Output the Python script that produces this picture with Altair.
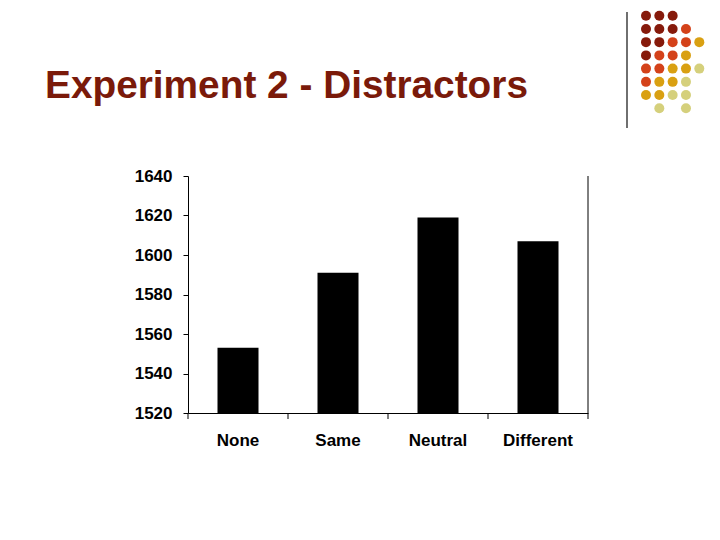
import altair as alt
import pandas as pd

# Bar data
conditions = ["None", "Same", "Neutral", "Different"]
rt_values = [1553, 1591, 1619, 1607]
y_ticks = [1520, 1540, 1560, 1580, 1600, 1620, 1640]
y_base = 1520
x_boundaries = [0, 1, 2, 3, 4]

# Decorative dot grid (row, col, colour group)
dot_rows = [0, 0, 0, 1, 1, 1, 1, 2, 2, 2, 2, 2, 3, 3, 3, 3, 4, 4, 4, 4, 4, 5, 5, 5, 5, 6, 6, 6, 6, 7, 7]
dot_cols = [0, 1, 2, 0, 1, 2, 3, 0, 1, 2, 3, 4, 0, 1, 2, 3, 0, 1, 2, 3, 4, 0, 1, 2, 3, 0, 1, 2, 3, 1, 3]
dot_tone = ["D", "D", "D", "D", "D", "D", "O", "D", "D", "O", "O", "G", "D", "O", "O", "G",
            "O", "O", "G", "G", "P", "O", "G", "G", "P", "G", "G", "P", "P", "P", "P"]
tone_names = ["D", "O", "G", "P"]
tone_colors = ["#861a0b", "#d4421a", "#d9a012", "#d5d07c"]

title_text = "Experiment 2 - Distractors"
title_color = "#7a1a0a"

W, H = 400, 237
LEFT, TOP = 180, 168

bars_df = pd.DataFrame({"cond": conditions, "rt": rt_values, "base": [y_base] * len(conditions)})
dots_df = pd.DataFrame({"r": dot_rows, "c": dot_cols, "tone": dot_tone})
ticks_df = pd.DataFrame({"b": x_boundaries})
one = alt.Data(values=[{}])

bars = alt.Chart(bars_df).mark_bar(color="black", clip=True).encode(
    x=alt.X("cond:N", sort=conditions, title=None,
            scale=alt.Scale(paddingInner=0.59, paddingOuter=0.295),
            axis=alt.Axis(labelAngle=0, ticks=False,
                          domainColor="black", labelFont="Liberation Sans", labelFontSize=17,
                          labelFontWeight="bold", labelColor="black", labelPadding=19)),
    y=alt.Y("rt:Q", title=None,
            scale=alt.Scale(domain=[1520, 1640], nice=False, zero=False),
            axis=alt.Axis(values=y_ticks, format="d", tickSize=5, tickColor="black",
                          domainColor="black", labelFont="Liberation Sans", labelFontSize=17,
                          labelFontWeight="bold", labelColor="black", labelPadding=11, grid=False)),
    y2="base:Q",
)

x_ticks = alt.Chart(ticks_df).mark_rule(color="black", strokeWidth=1).encode(
    x=alt.X("b:Q", axis=None, scale=alt.Scale(domain=[0, 4], range=[0, W])),
    y=alt.value(H), y2=alt.value(H + 6),
)

right_border = alt.Chart(one).mark_rule(color="black", strokeWidth=1).encode(
    x=alt.value(W), y=alt.value(0), y2=alt.value(H)
)

dots = alt.Chart(dots_df).mark_circle(size=100, opacity=1).encode(
    x=alt.X("c:Q", axis=None, scale=alt.Scale(domain=[0, 4], range=[646 - 188, 699.3 - 188])),
    y=alt.Y("r:Q", axis=None, scale=alt.Scale(domain=[0, 7], range=[15.7 - 176, 108.3 - 176])),
    color=alt.Color("tone:N", legend=None,
                    scale=alt.Scale(domain=tone_names, range=tone_colors)),
)

vline = alt.Chart(one).mark_rule(color="#222222", strokeWidth=1.3).encode(
    x=alt.value(627 - 188), y=alt.value(12 - 176), y2=alt.value(128 - 176)
)

title = alt.Chart(one).mark_text(
    text=title_text, align="left", baseline="alphabetic", font="Liberation Sans",
    fontSize=38.8, fontWeight="bold", color=title_color
).encode(x=alt.value(45 - 188), y=alt.value(98 - 176))

chart = alt.layer(bars, x_ticks, right_border, dots, vline, title).resolve_scale(
    x="independent", y="independent", color="independent"
).properties(
    width=W, height=H,
    autosize=alt.AutoSizeParams(type="none"),
    padding={"left": LEFT, "top": TOP, "right": 720 - 16 - LEFT - W, "bottom": 540 - 16 - TOP - H},
    background="white",
).configure_view(stroke=None)

chart.save("out.html", embed_options={"renderer": "svg", "actions": False})
